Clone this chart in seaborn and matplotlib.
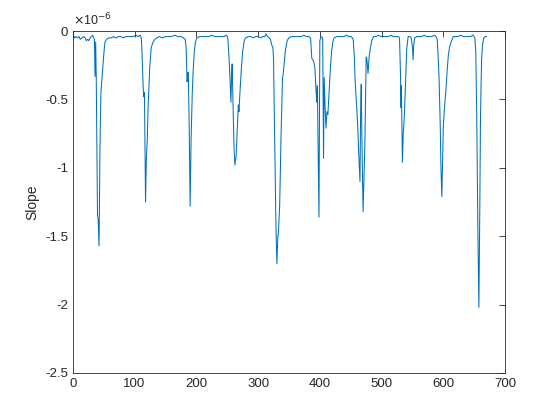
import numpy as np
import pandas as pd
import matplotlib
matplotlib.use('Agg')
import matplotlib.pyplot as plt
import seaborn as sns
from matplotlib.ticker import FuncFormatter

# valores (slope em unidades de 1e-6)
sample = [1, 3, 5, 8, 10, 12, 15, 18, 20, 22, 24, 26, 28, 30, 32, 34,
          35, 36, 37, 38, 40, 41, 42.5, 44, 45.5, 48, 50, 52, 55,
          58, 62, 66, 70, 74, 78, 82, 86, 90, 94, 98, 102, 106, 109, 111,
          112, 114, 115, 116, 117.8, 119, 120.5, 122, 124.5, 127, 130, 133,
          136, 140, 145, 150, 155, 160, 165, 170, 175, 179, 182,
          183.5, 185, 186, 187, 188.5, 190, 191.5, 193.5, 195, 196.6, 198.5, 201,
          205, 210, 215, 220, 225, 230, 235, 240, 245, 249, 251,
          253, 255, 256, 257, 258, 259, 260, 261, 262.5, 264.5, 266, 268, 269, 271, 273, 275, 277.6, 280,
          284, 288, 292, 296, 300, 304, 308, 311, 313, 315, 318, 320, 322, 324, 325,
          327, 329, 330.5, 332, 333, 335, 337, 339.5, 341, 342, 344, 347, 350,
          354, 358, 362, 366, 370, 374, 378, 382, 385,
          387, 390, 392, 394, 395, 396, 398.6, 399.5, 400, 402, 404.6, 406, 407, 408.5, 410, 411.6, 413, 415, 417, 419, 421, 423,
          427, 431, 435, 439, 443, 447, 451, 454,
          456, 457, 459, 461, 463, 465, 466, 467, 468.5, 470, 471.5, 473, 474, 475, 476, 477, 478, 480, 482, 484, 487,
          491, 495, 499, 503, 507, 511, 515, 519, 523, 527, 529,
          530.5, 531.5, 532, 533.7, 535, 536.4, 537, 538.5, 540.7, 543, 546, 548, 550, 551, 552, 553.5,
          557, 561, 565, 569, 573, 577, 581, 585, 588, 590,
          591.5, 593, 595, 596, 597.5, 599, 600, 602, 604, 606, 608, 610, 612.5, 616,
          620, 624, 628, 632, 636, 640, 644, 648, 651,
          652.5, 654, 656, 657.5, 659, 660, 661, 662, 663.5, 665.5, 668, 670]
slope = [-0.03, -0.05, -0.04, -0.05, -0.04, -0.06, -0.05, -0.04, -0.05, -0.07, -0.06, -0.07, -0.05, -0.04, -0.03, -0.05,
         -0.06, -0.33, -0.08, -0.35, -1.35, -1.37, -1.57, -0.85, -0.45, -0.30, -0.18, -0.08, -0.06,
         -0.05, -0.05, -0.04, -0.05, -0.04, -0.04, -0.05, -0.04, -0.04, -0.04, -0.04, -0.03, -0.04, -0.03, -0.05,
         -0.15, -0.42, -0.48, -0.45, -1.25, -0.95, -0.80, -0.55, -0.27, -0.12, -0.08, -0.06,
         -0.05, -0.04, -0.05, -0.04, -0.04, -0.04, -0.03, -0.04, -0.04, -0.05, -0.06,
         -0.12, -0.37, -0.33, -0.30, -0.70, -1.28, -0.80, -0.44, -0.28, -0.16, -0.08, -0.05,
         -0.04, -0.04, -0.04, -0.04, -0.03, -0.04, -0.04, -0.04, -0.04, -0.03, -0.05,
         -0.20, -0.40, -0.52, -0.35, -0.24, -0.45, -0.69, -0.85, -0.98, -0.91, -0.75, -0.54, -0.59, -0.42, -0.27, -0.15, -0.07, -0.05,
         -0.04, -0.04, -0.05, -0.04, -0.04, -0.05, -0.04, -0.04, -0.02, -0.04, -0.05, -0.06, -0.10, -0.12, -0.20,
         -0.80, -1.45, -1.70, -1.50, -1.47, -1.27, -0.80, -0.35, -0.30, -0.25, -0.15, -0.07, -0.05,
         -0.04, -0.04, -0.04, -0.04, -0.04, -0.03, -0.04, -0.04, -0.05,
         -0.20, -0.22, -0.27, -0.45, -0.52, -0.40, -1.36, -0.50, -0.07, -0.04, -0.05, -0.93, -0.34, -0.55, -0.71, -0.59, -0.61, -0.45, -0.28, -0.15, -0.08, -0.05,
         -0.04, -0.04, -0.04, -0.04, -0.03, -0.04, -0.04, -0.06,
         -0.20, -0.35, -0.50, -0.66, -0.90, -1.10, -0.60, -0.39, -0.90, -1.32, -1.05, -0.81, -0.50, -0.19, -0.20, -0.25, -0.31, -0.18, -0.12, -0.07, -0.04,
         -0.04, -0.03, -0.04, -0.04, -0.04, -0.04, -0.03, -0.04, -0.04, -0.04, -0.05,
         -0.30, -0.56, -0.40, -0.96, -0.75, -0.66, -0.60, -0.40, -0.13, -0.04, -0.04, -0.05, -0.12, -0.21, -0.10, -0.05,
         -0.04, -0.04, -0.04, -0.03, -0.04, -0.04, -0.04, -0.03, -0.04, -0.06,
         -0.18, -0.34, -0.70, -0.98, -1.21, -0.90, -0.69, -0.55, -0.44, -0.30, -0.18, -0.12, -0.08, -0.04,
         -0.04, -0.04, -0.03, -0.04, -0.04, -0.04, -0.04, -0.03, -0.05,
         -0.15, -0.60, -1.50, -2.02, -1.30, -0.69, -0.40, -0.20, -0.10, -0.05, -0.04, -0.04]
scale = 1e-6

df = pd.DataFrame({'sample': sample, 'slope': np.array(slope) * scale})

sns.set_style('white')
plt.rcParams['font.family'] = ['Liberation Sans', 'DejaVu Sans']
plt.rcParams['axes.unicode_minus'] = False

fig = plt.figure(figsize=(5.6, 4.2), dpi=100)
ax = fig.add_axes([0.13, 0.112, 0.772, 0.814])
sns.lineplot(data=df, x='sample', y='slope', color='#0072BD', linewidth=0.75, ax=ax)

ax.set_xlim(0, 700)
ax.set_ylim(-2.5e-6, 0)
ax.set_xticks(np.arange(0, 701, 100))
ax.set_yticks(np.arange(-2.5, 0.01, 0.5) * scale)
ax.yaxis.set_major_formatter(FuncFormatter(lambda v, p: f'{v / scale:g}'))
ax.set_xlabel('')
ax.set_ylabel('Slope', fontsize=10, color='#262626')
ax.tick_params(direction='in', length=4, width=0.6, colors='#262626', labelsize=9.5,
               top=True, right=True)
for s in ax.spines.values():
    s.set_color('#262626')
    s.set_linewidth(0.6)
ax.text(0.0, 1.008, r'$\times$10$^{-6}$', transform=ax.transAxes, fontsize=9,
        color='#262626', ha='left', va='bottom')

fig.savefig('out.png', dpi=100)
